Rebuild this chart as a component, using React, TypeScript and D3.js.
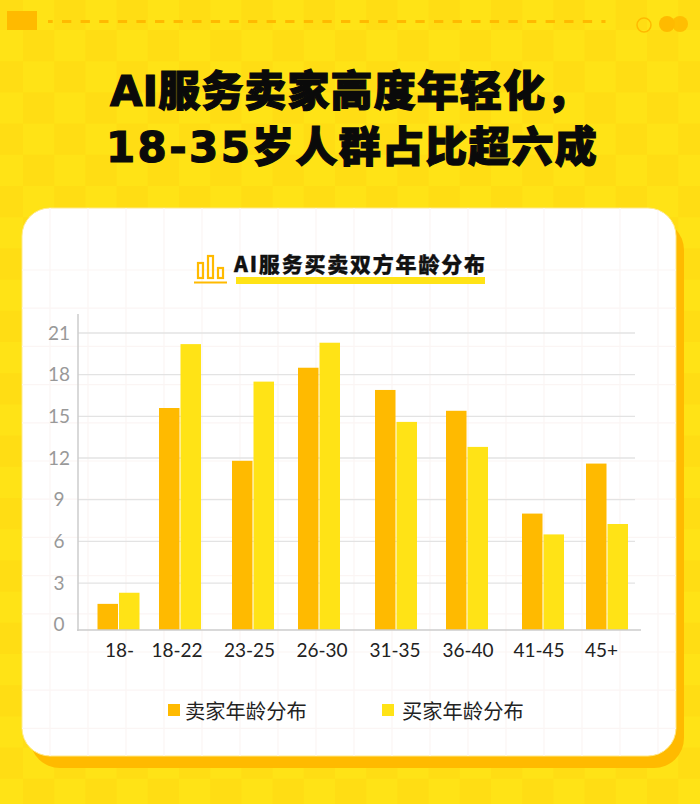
import React from "react";
import * as d3 from "d3";

const categories = ["18-", "18-22", "23-25", "26-30", "31-35", "36-40", "41-45", "45+"];
const sellerValues = [1.5, 15.6, 11.8, 18.5, 16.9, 15.4, 8.0, 11.6];
const buyerValues = [2.3, 20.2, 17.5, 20.3, 14.6, 12.8, 6.5, 7.25];
const yTicks = [0, 3, 6, 9, 12, 15, 18, 21];
const seriesNames = ["卖家年龄分布", "买家年龄分布"];
const titleLatin = ["AI", "18-35"];
const titleHan = ["服务卖家高度年轻化，", "岁人群占比超六成"];
const chartTitle = "AI服务买卖双方年龄分布";

const W = 700, H = 804;
const ORANGE = "#FFBA00", YELLOW = "#FFE316";
const y = d3.scaleLinear().domain([0, 21]).range([624.7, 333]);
const BASE = 630;
const groupX = d3.scaleOrdinal<string, number>().domain(categories).range([118.5, 180, 253, 319, 396, 467, 543, 607]);
const labelX = d3.scaleOrdinal<string, number>().domain(categories).range([119.5, 177, 249.5, 322, 395, 468, 539, 601.5]);
const BAR = 20.5;
const sans = "'Noto Sans CJK SC','Noto Sans',sans-serif";
const latin = "Lato,'Noto Sans CJK SC',sans-serif";
const display = "'DejaVu Sans','Noto Sans CJK SC',sans-serif";

export default function App() {
  const cols = d3.range(-1, 23);
  const rows = d3.range(-1, 27);
  return (
    <svg width={W} height={H} viewBox={`0 0 ${W} ${H}`} style={{ position: "absolute", left: 0, top: 0, display: "block" }}>
      <rect width={W} height={H} fill={YELLOW} />
      {cols.flatMap((c) => rows.map((r) => ((c + r) % 2 === 0 ? (
        <rect key={`${c}-${r}`} x={c * 31.2 + 23} y={r * 31.2 + 30} width={31.2} height={31.2} fill="#FFDD14" />
      ) : null)))}

      <rect x={7} y={11} width={30} height={19} fill={ORANGE} />
      <line x1={48} x2={605.5} y1={21.5} y2={21.5} stroke={ORANGE} strokeWidth={3} strokeDasharray="9.3 9.3" strokeDashoffset={4.6} />
      <circle cx={644} cy={25} r={7} fill="none" stroke={ORANGE} strokeWidth={1.5} />
      <circle cx={667} cy={24} r={8} fill={ORANGE} />
      <circle cx={680} cy={24} r={8} fill={ORANGE} opacity={0.9} />

      <g fontFamily={display} fontWeight={900} fill="#0a0a0a" stroke="#0a0a0a" strokeWidth={1.2} fontSize={42}>
        <text x={110} y={106}><tspan>{titleLatin[0]}</tspan><tspan letterSpacing={1.1}>{titleHan[0]}</tspan></text>
        <text x={106} y={162}><tspan letterSpacing={2.4}>{titleLatin[1]}</tspan><tspan letterSpacing={1.2}>{titleHan[1]}</tspan></text>
      </g>

      <rect x={30} y={220} width={654} height={548} rx={30} fill={ORANGE} />
      <rect x={22} y={208} width={654} height={548} rx={28} fill="#fff" stroke="#FFE98A" strokeWidth={1} />
      <clipPath id="card"><rect x={22} y={208} width={654} height={548} rx={28} /></clipPath>
      <g clipPath="url(#card)" stroke="#FBF5F4" strokeWidth={1.2}>
        {d3.range(0, 17).map((i) => <line key={i} x1={50 + i * 38} x2={50 + i * 38} y1={208} y2={756} />)}
        {d3.range(0, 14).map((i) => <line key={i} y1={270 + i * 38.2} y2={270 + i * 38.2} x1={22} x2={676} />)}
      </g>

      <g fill="none" stroke={ORANGE} strokeWidth={2.2}>
        <rect x={198} y={263} width={5} height={15} />
        <rect x={208} y={256} width={5} height={22} />
        <rect x={218} y={268} width={5} height={10} />
        <line x1={194} x2={227} y1={282.5} y2={282.5} />
      </g>
      <rect x={236} y={277} width={249} height={7} fill={YELLOW} />
      <text x={234} y={272} textLength={251} lengthAdjust="spacing" fontFamily={sans} fontWeight={900} fontSize={21} fill="#111" stroke="#111" strokeWidth={0.3}>{chartTitle}</text>

      {yTicks.filter((t) => t > 0).map((t) => (
        <line key={t} x1={78} x2={635} y1={y(t)} y2={y(t)} stroke="#E3E3E3" strokeWidth={1.3} />
      ))}
      {categories.map((c, i) => (
        <g key={c}>
          <rect x={groupX(c) - BAR - 0.5} y={y(sellerValues[i])} width={BAR} height={BASE - y(sellerValues[i])} fill={ORANGE} />
          <rect x={groupX(c) + 0.5} y={y(buyerValues[i])} width={BAR} height={BASE - y(buyerValues[i])} fill={YELLOW} />
          <text x={labelX(c)} y={657} textAnchor="middle" fontFamily={latin} fontSize={19} fill="#222">{c}</text>
        </g>
      ))}
      <line x1={78} x2={78} y1={314} y2={631} stroke="#CCCCCC" strokeWidth={1.5} />
      <line x1={77} x2={641} y1={BASE} y2={BASE} stroke="#CCCCCC" strokeWidth={1.5} />
      {yTicks.map((t) => (
        <text key={t} x={59} y={y(t) + 6.5} textAnchor="middle" fontFamily={latin} fontSize={19} fill="#999">{t}</text>
      ))}

      <rect x={168} y={704} width={12} height={12} fill={ORANGE} />
      <text x={185} y={719} fontFamily={sans} fontSize={20.3} fill="#222">{seriesNames[0]}</text>
      <rect x={382} y={704} width={12} height={12} fill={YELLOW} />
      <text x={402} y={719} fontFamily={sans} fontSize={20.3} fill="#222">{seriesNames[1]}</text>
    </svg>
  );
}
